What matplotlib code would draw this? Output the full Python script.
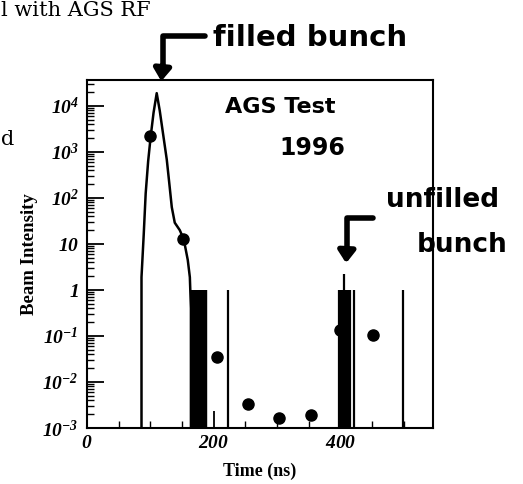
import matplotlib
matplotlib.use('Agg')
import matplotlib.pyplot as plt
import numpy as np
from matplotlib.lines import Line2D
from matplotlib.ticker import FixedLocator, FixedFormatter, LogLocator, NullFormatter

plt.rcParams['mathtext.fontset'] = 'custom'
plt.rcParams['mathtext.default'] = 'rm'
plt.rcParams['mathtext.rm'] = 'Liberation Serif:style=italic:weight=bold'

# beam profile trace (ns, intensity)
curve_t = [86, 86, 89.5, 92.6, 96.5, 100.6, 105, 110, 114.8, 120, 125.9, 130,
           133.8, 138.5, 146.4, 152.7, 159, 162.3, 164, 164]
curve_y = [1e-3, 1.9, 16, 126, 630, 2240, 7100, 19000, 7900, 2500, 680, 200,
           63, 29, 20, 12.6, 4.5, 1.9, 0.4, 1e-3]

# measured points
dot_t = [100, 152, 205, 254, 303, 353, 400, 451]
dot_y = [2200, 12.8, 0.035, 0.0033, 0.00165, 0.0019, 0.135, 0.105]

# vertical bars
bar_t = [165, 166, 167, 168, 169, 170, 171, 172, 173, 174, 175, 176, 177, 178,
         179, 180, 181, 182, 183, 184, 185, 186, 187, 188, 222,
         398, 400, 403, 405.6, 408, 411, 413, 415, 421.7, 499]
bar_h = [1] * 25 + [1, 1, 1, 2.2, 1, 1, 1, 1, 1, 1]

ytick_vals = [1e-3, 1e-2, 1e-1, 1, 10, 1e2, 1e3, 1e4]
ytick_txt = [r'$10^{-3}$', r'$10^{-2}$', r'$10^{-1}$', r'$1$', r'$10$',
             r'$10^{2}$', r'$10^{3}$', r'$10^{4}$']
xtick_vals = [0, 200, 400]
xtick_txt = [r'$0$', r'$200$', r'$400$']

W, H = 523, 484
fig = plt.figure(figsize=(W / 100, H / 100), dpi=100)
ax = fig.add_axes([87 / W, 1 - 428 / H, (433 - 87) / W, (428 - 80) / H])

ax.set_yscale('log')
ax.set_xlim(0, 546)
ax.set_ylim(1e-3, 3.67e4)

ax.vlines(bar_t, 1e-3, bar_h, color='black', lw=1.6)
ax.plot(curve_t, curve_y, color='black', lw=1.8)
ax.plot(dot_t, dot_y, 'o', color='black', ms=8)

ax.yaxis.set_major_locator(FixedLocator(ytick_vals))
ax.yaxis.set_major_formatter(FixedFormatter(ytick_txt))
ax.yaxis.set_minor_locator(LogLocator(base=10, subs=np.arange(2, 10), numticks=20))
ax.yaxis.set_minor_formatter(NullFormatter())
ax.xaxis.set_major_locator(FixedLocator(xtick_vals))
ax.xaxis.set_major_formatter(FixedFormatter(xtick_txt))
ax.xaxis.set_minor_locator(FixedLocator([50, 100, 150, 250, 300, 350, 450, 500]))

ax.tick_params(which='major', direction='in', length=12, width=1.3, labelsize=14)
ax.tick_params(which='minor', direction='in', length=5, width=1)
ax.tick_params(axis='y', pad=6)
for s in ax.spines.values():
    s.set_linewidth(1.5)

ax.set_xlabel('Time (ns)', family='Liberation Serif', weight='bold', fontsize=13, labelpad=8)
ax.set_ylabel('Beam Intensity', family='Liberation Serif', weight='bold', fontsize=13.5, labelpad=3)


def px(x, y):
    return (x / W, 1 - y / H)


# page text around the figure
fig.text(*px(1, 10), 'l with AGS RF', family='DejaVu Serif', fontsize=15, va='center', ha='left')
fig.text(*px(1, 140), 'd', family='DejaVu Serif', fontsize=15, va='center', ha='left')

# handwritten notes
hand = dict(family='DejaVu Sans', weight='bold', color='black')
fig.text(*px(310, 38), 'filled bunch', fontsize=21, ha='center', va='center', **hand)
fig.text(*px(280, 107), 'AGS Test', fontsize=16, ha='center', va='center', **hand)
fig.text(*px(312, 148), '1996', fontsize=17, ha='center', va='center', **hand)
fig.text(*px(443, 200), 'unfilled', fontsize=19, ha='center', va='center', **hand)
fig.text(*px(462, 245), 'bunch', fontsize=19, ha='center', va='center', **hand)

for xs, ys in [([205, 163, 163], [36, 36, 70]), ([373, 347, 347], [218, 218, 255])]:
    fig.add_artist(Line2D([x / W for x in xs], [1 - y / H for y in ys],
                          color='black', lw=4, solid_capstyle='round'))
ax.annotate('', xy=px(161, 84), xycoords='figure fraction',
            xytext=px(163, 62), textcoords='figure fraction',
            arrowprops=dict(arrowstyle='-|>,head_width=0.5,head_length=0.7', color='black', lw=4))
ax.annotate('', xy=px(346, 266), xycoords='figure fraction',
            xytext=px(347, 245), textcoords='figure fraction',
            arrowprops=dict(arrowstyle='-|>,head_width=0.5,head_length=0.7', color='black', lw=4))

fig.savefig('out.png', dpi=100)
